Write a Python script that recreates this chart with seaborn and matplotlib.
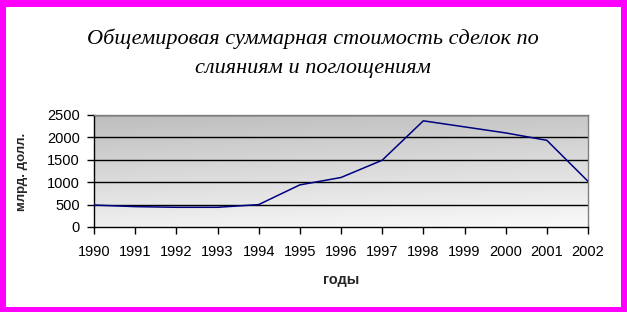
import numpy as np
import pandas as pd
import matplotlib
matplotlib.use("Agg")
import matplotlib.pyplot as plt
from matplotlib.patches import Rectangle
import seaborn as sns

years = [1990, 1991, 1992, 1993, 1994, 1995, 1996, 1997, 1998, 1999, 2000, 2001, 2002]
values = [490, 455, 440, 440, 500, 940, 1105, 1490, 2370, 2235, 2100, 1935, 1020]
yticks = [0, 500, 1000, 1500, 2000, 2500]
title = "Общемировая суммарная стоимость сделок по\nслияниям и поглощениям"
xlabel = "годы"
ylabel = "млрд. долл."

df = pd.DataFrame({"year": years, "value": values})

sns.set_theme(style="white")
plt.rcParams["font.family"] = ["Liberation Sans", "DejaVu Sans"]

W, H = 627, 312
fig = plt.figure(figsize=(W / 100, H / 100), dpi=100, facecolor="#ff00ff")
fig.add_artist(Rectangle((5.5 / W, 5.5 / H), (W - 11.5) / W, (H - 12) / H,
                         transform=fig.transFigure, facecolor="white",
                         edgecolor="none", zorder=0))

ax = fig.add_axes([94 / W, (H - 227) / H, (588 - 94) / W, (227 - 115) / H])
ax.set_zorder(1)

# gradient background of plot area: darker top-left, lighter bottom
grad = np.linspace(0, 1, 256)
gx, gy = np.meshgrid(grad, grad)
g = 0.74 + 0.20 * gy + 0.04 * gx
g = np.clip(g, 0, 1)
img = np.dstack([g, g, g])
ax.imshow(img, extent=[0, 1, 0, 1], transform=ax.transAxes, origin="upper",
          aspect="auto", zorder=0, interpolation="bicubic")

for t in yticks[1:]:
    ax.axhline(t, color="black", lw=1.0, zorder=1)

sns.lineplot(data=df, x="year", y="value", ax=ax, color="#000080", lw=1.1, zorder=3)

ax.set_xlim(years[0], years[-1])
ax.set_ylim(0, 2500)
ax.set_xticks(years)
ax.set_xticklabels([str(y) for y in years])
ax.set_yticks(yticks)
ax.tick_params(axis="both", which="both", direction="out", length=5, width=1,
               color="black", labelsize=10.5, labelcolor="black", pad=5,
               bottom=True, left=True)
ax.tick_params(axis="x", pad=8)

for s in ["left", "bottom"]:
    ax.spines[s].set_color("black")
    ax.spines[s].set_linewidth(1)
for s in ["top", "right"]:
    ax.spines[s].set_color("#808080")
    ax.spines[s].set_linewidth(1)

ax.set_xlabel("")
ax.set_ylabel("")
fig.text(341 / W, 1 - 280 / H, xlabel, ha="center", va="center",
         fontsize=10.5, fontweight="bold")
fig.text(22 / W, 1 - 172 / H, ylabel, ha="center", va="center", rotation=90,
         fontsize=9.5, fontweight="bold")
fig.text(313 / W, 1 - 53 / H, title, ha="center", va="center",
         fontsize=16, style="italic", family=["Liberation Serif", "DejaVu Serif"],
         linespacing=1.7, color="black")

fig.savefig("out.png", dpi=100, facecolor=fig.get_facecolor())
